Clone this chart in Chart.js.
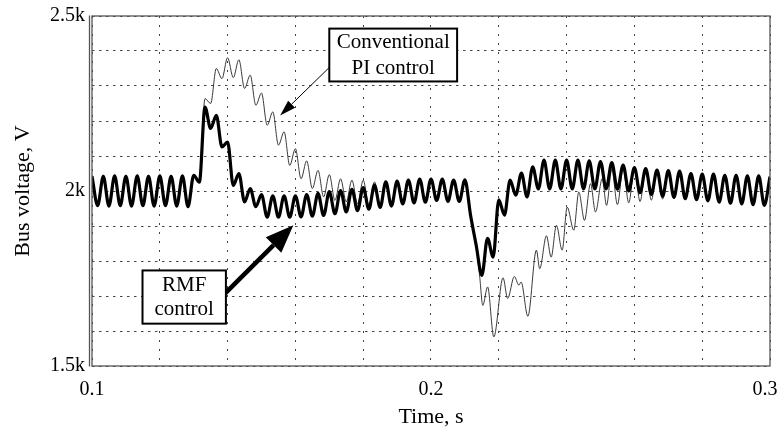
<!DOCTYPE html>
<html><head><meta charset="utf-8">
<script src="https://cdn.jsdelivr.net/npm/chart.js@4.4.1/dist/chart.umd.min.js"></script>
<style>html,body{margin:0;padding:0;background:#fff;}#wrap{width:778px;height:441px;}</style>
</head><body><div id="wrap"><canvas id="c" width="778" height="441"></canvas></div>
<script>
// ---- data (time in s, voltage in V) ----
const gridTime = [0.10000,0.10167,0.10333,0.10500,0.10667,0.10833,0.11000,0.11167,0.11333,0.11500,
0.11667,0.11833,0.12000,0.12167,0.12333,0.12500,0.12667,0.12833,0.13000,0.13167,
0.13333,0.13500,0.13667,0.13833,0.14000,0.14167,0.14333,0.14500,0.14667,0.14833,
0.15000,0.15167,0.15333,0.15500,0.15667,0.15833,0.16000,0.16167,0.16333,0.16500,
0.16667,0.16833,0.17000,0.17167,0.17333,0.17500,0.17667,0.17833,0.18000,0.18167,
0.18333,0.18500,0.18667,0.18833,0.19000,0.19167,0.19333,0.19500,0.19667,0.19833,
0.20000,0.20167,0.20333,0.20500,0.20667,0.20833,0.21000,0.21167,0.21333,0.21500,
0.21667,0.21833,0.22000,0.22167,0.22333,0.22500,0.22667,0.22833,0.23000,0.23167,
0.23333,0.23500,0.23667,0.23833,0.24000,0.24167,0.24333,0.24500,0.24667,0.24833,
0.25000,0.25167,0.25333,0.25500,0.25667,0.25833,0.26000,0.26167,0.26333,0.26500,
0.26667,0.26833,0.27000,0.27167,0.27333,0.27500,0.27667,0.27833,0.28000,0.28167,
0.28333,0.28500,0.28667,0.28833,0.29000,0.29167,0.29333,0.29500,0.29667,0.29833,
0.30000];

const rmfVolt = [2042,1958,2042,1957,2043,1958,2042,1957,2043,1958,
2042,1957,2043,1958,2042,1957,2043,1955,2045,2025,
2240,2179,2216,2126,2140,2016,2050,1969,2007,1955,
1990,1925,1986,1925,1986,1925,1986,1926,1990,1928,
1993,1930,1998,1935,2001,1940,2005,1944,2010,1948,
2017,1953,2026,1957,2028,1963,2031,1966,2034,1968,
2034,1973,2034,1970,2031,1970,2032,1931,1845,1759,
1865,1811,1975,1931,2031,1988,2051,1983,2069,2006,
2088,2006,2088,2006,2088,2006,2088,2006,2086,2006,
2084,2006,2081,2005,2074,2000,2067,1995,2064,1990,
2060,1985,2058,1982,2057,1978,2050,1975,2048,1972,
2048,1968,2045,1965,2045,1963,2043,1961,2043,1959,
2041];

const piTime = [0.10000,0.10167,0.10333,0.10500,0.10667,0.10833,0.11000,0.11167,0.11333,0.11500,
0.11667,0.11833,0.12000,0.12167,0.12333,0.12500,0.12667,0.12833,0.13000,0.13167,
0.13333,0.13500,0.13667,0.13833,0.14000,0.14167,0.14333,0.14500,0.14667,0.14833,
0.15000,0.15167,0.15333,0.15500,0.15667,0.15833,0.16000,0.16167,0.16333,0.16500,
0.16667,0.16833,0.17000,0.17167,0.17333,0.17500,0.17667,0.17833,0.18000,0.18167,
0.18333,0.18500,0.18667,0.18833,0.19000,0.19167,0.19333,0.19500,0.19667,0.19833,
0.20000,0.20167,0.20333,0.20500,0.20667,0.20833,0.21000,0.21167,0.21333,
0.21439,0.21528,0.21670,0.21853,0.22125,0.22261,0.22459,0.22592,0.22657,0.22858,
0.23109,0.23207,0.23405,0.23544,0.23700,0.23869,0.24017,0.24212,0.24360,0.24528,
0.24705,0.24853,0.25051,0.25178,
0.25333,0.25500,0.25667,0.25833,0.26000,0.26167,0.26333,0.26500,
0.26667,0.26833,0.27000,0.27167,0.27333,0.27500,0.27667,0.27833,0.28000,0.28167,
0.28333,0.28500,0.28667,0.28833,0.29000,0.29167,0.29333,0.29500,0.29667,0.29833,
0.30000];

const piVolt = [2045,1955,2045,1954,2046,1955,2045,1954,2046,1955,
2045,1954,2046,1955,2045,1954,2046,1953,2047,2028,
2264,2250,2350,2321,2381,2324,2375,2293,2331,2245,
2280,2188,2226,2131,2169,2073,2121,2035,2086,2007,
2059,1983,2047,1973,2035,1969,2031,1964,2031,1959,
2026,1957,2028,1958,2030,1962,2033,1966,2036,1967,
2036,1971,2036,1969,2033,1969,2034,1930,1845,
1753,1673,1726,1583,1752,1693,1756,1731,1740,1642,
1831,1778,1872,1811,1902,1831,1954,1888,1997,1916,
2021,1940,2035,1959,
2062,1961,2066,1966,2064,1970,2062,1974,
2058,1977,2056,1978,2055,1976,2049,1973,2047,1970,
2047,1966,2044,1963,2044,1961,2042,1959,2042,1957,
2040];

const seriesNames = ['RMF control', 'Conventional PI control'];
const xTickValues = [0.1, 0.2, 0.3];
const xTickLabels = ['0.1', '0.2', '0.3'];
const yTickValues = [1500, 2000, 2500];
const yTickLabels = ['1.5k', '2k', '2.5k'];
const xTitle = 'Time, s';
const yTitle = 'Bus voltage, V';

// annotation callouts (anchored in data coordinates)
const callouts = [
  {lines: ['Conventional', 'PI control'], box: [0.1700, 2464, 0.2077, 2313], lineGap: 26,
   from: [0.1700, 2353], to: [0.1555, 2216], lw: 1, head: 16, headW: 10},
  {lines: ['RMF', 'control'], box: [0.1149, 1773, 0.1395, 1621], lineGap: 24,
   from: [0.1392, 1707], to: [0.1594, 1902], lw: 4.5, head: 28, headW: 22}
];

function toXY(a, b) { return a.map((v, i) => ({x: v, y: b[i]})); }
function lbl(v, vals, labs) {
  for (let i = 0; i < vals.length; i++) if (Math.abs(v - vals[i]) < 1e-6 * Math.max(1, Math.abs(vals[i]))) return labs[i];
  return '';
}

const serif = "'Liberation Serif', 'Times New Roman', serif";
const target = {right: 770, top: 16, bottom: 366};

const framePlugin = {
  id: 'frame',
  beforeDraw(chart) {
    const ctx = chart.ctx;
    ctx.save(); ctx.fillStyle = '#fff'; ctx.fillRect(0, 0, chart.width, chart.height); ctx.restore();
  },
  afterDatasetsDraw(chart) {
    const {ctx, chartArea: a} = chart;
    ctx.save();
    ctx.strokeStyle = '#555';
    ctx.lineWidth = 1.3;
    ctx.strokeRect(a.left, a.top, a.right - a.left, a.bottom - a.top);
    ctx.beginPath(); ctx.moveTo(a.left - 2.5, a.top - 0.5); ctx.lineTo(a.left - 2.5, a.bottom + 0.5); ctx.stroke();
    ctx.restore();
  },
  afterDraw(chart) {
    const ctx = chart.ctx;
    const xs = chart.scales.x, ys = chart.scales.y;
    ctx.save();
    callouts.forEach(c => {
      const x1 = xs.getPixelForValue(c.from[0]), y1 = ys.getPixelForValue(c.from[1]);
      const x2 = xs.getPixelForValue(c.to[0]), y2 = ys.getPixelForValue(c.to[1]);
      const ang = Math.atan2(y2 - y1, x2 - x1);
      const bx = x2 - c.head * Math.cos(ang), by = y2 - c.head * Math.sin(ang);
      ctx.strokeStyle = '#000'; ctx.fillStyle = '#000';
      ctx.lineWidth = c.lw;
      ctx.beginPath(); ctx.moveTo(x1, y1); ctx.lineTo(bx, by); ctx.stroke();
      ctx.beginPath(); ctx.moveTo(x2, y2);
      ctx.lineTo(bx + c.headW / 2 * Math.sin(ang), by - c.headW / 2 * Math.cos(ang));
      ctx.lineTo(bx - c.headW / 2 * Math.sin(ang), by + c.headW / 2 * Math.cos(ang));
      ctx.closePath(); ctx.fill();
      const L = xs.getPixelForValue(c.box[0]), T = ys.getPixelForValue(c.box[1]);
      const R = xs.getPixelForValue(c.box[2]), B = ys.getPixelForValue(c.box[3]);
      ctx.fillStyle = '#fff'; ctx.fillRect(L, T, R - L, B - T);
      ctx.lineWidth = 2; ctx.strokeStyle = '#000'; ctx.strokeRect(L, T, R - L, B - T);
      ctx.fillStyle = '#000'; ctx.font = '21px ' + serif;
      ctx.textAlign = 'center'; ctx.textBaseline = 'middle';
      const cy = (T + B) / 2, cx = (L + R) / 2;
      c.lines.forEach((s, i) => ctx.fillText(s, cx, cy + (i - (c.lines.length - 1) / 2) * c.lineGap));
    });
    ctx.restore();
  }
};

const chart = new Chart(document.getElementById('c'), {
  type: 'line',
  data: {
    datasets: [
      {label: seriesNames[0], data: toXY(gridTime, rmfVolt), borderColor: '#000', borderWidth: 3.2,
       pointRadius: 0, cubicInterpolationMode: 'monotone', order: 0},
      {label: seriesNames[1], data: toXY(piTime, piVolt), borderColor: '#3a3a3a', borderWidth: 1,
       pointRadius: 0, cubicInterpolationMode: 'monotone', order: 1}
    ]
  },
  options: {
    responsive: false, animation: false, devicePixelRatio: 1,
    layout: {autoPadding: false, padding: {top: 16, right: 8, left: 0, bottom: 0}},
    plugins: {legend: {display: false}, tooltip: {enabled: false}},
    scales: {
      x: {
        type: 'linear', min: 0.1, max: 0.3,
        afterFit(s) { s.height = 75; s.paddingLeft = 0; s.paddingRight = 0; },
        ticks: {stepSize: 0.02, autoSkip: false, maxRotation: 0, padding: 12, color: '#000',
                font: {family: serif, size: 20},
                // last label is kept inside the canvas like in the reference (trailing figure space)
                callback: v => { const s = lbl(v, xTickValues, xTickLabels);
                  return (s && Math.abs(v - xTickValues[xTickValues.length - 1]) < 1e-6) ? s + '\u2007' : s; }},
        grid: {color: '#444', lineWidth: 1, drawTicks: false},
        border: {display: false, dash: [2, 7]},
        title: {display: true, text: xTitle, color: '#000', font: {family: serif, size: 22},
                padding: {top: 0, bottom: 11}}
      },
      y: {
        min: 1500, max: 2500,
        afterFit(s) { s.width = 92; s.paddingTop = 0; s.paddingBottom = 0; },
        ticks: {stepSize: 100, autoSkip: false, padding: 7, color: '#000',
                font: {family: serif, size: 20},
                callback: v => lbl(v, yTickValues, yTickLabels)},
        grid: {color: '#444', lineWidth: 1, drawTicks: false},
        border: {display: false, dash: [2.5, 4.5]},
        title: {display: true, text: yTitle, color: '#000', font: {family: serif, size: 22},
                padding: {top: 10, bottom: 0}}
      }
    }
  },
  plugins: [framePlugin]
});

// pin the plot area to the reference frame
for (let i = 0; i < 4; i++) {
  const a = chart.chartArea;
  const p = chart.options.layout.padding;
  const dr = a.right - target.right, dt = a.top - target.top, db = a.bottom - target.bottom;
  if (Math.abs(dr) < 0.3 && Math.abs(dt) < 0.3 && Math.abs(db) < 0.3) break;
  chart.options.layout.padding = {left: p.left || 0, right: (p.right || 0) + dr, top: (p.top || 0) - dt, bottom: (p.bottom || 0) + db};
  chart.update();
}
</script></body></html>
